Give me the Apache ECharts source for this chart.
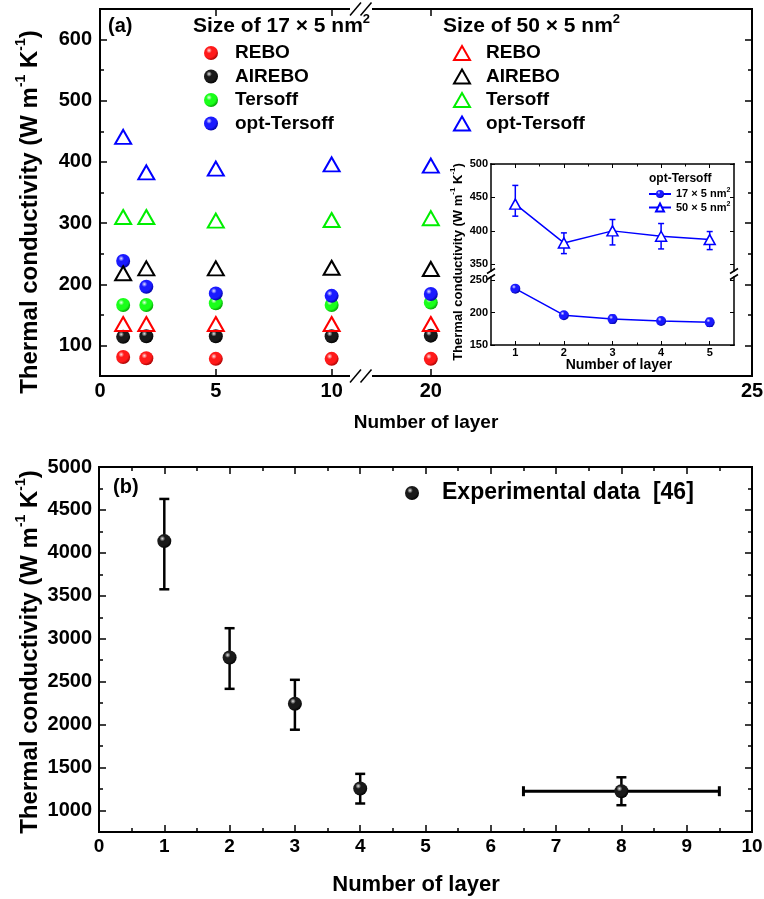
<!DOCTYPE html>
<html lang="en">
<head>
<meta charset="UTF-8">
<title>Thermal conductivity vs number of layers</title>
<script src="https://cdn.jsdelivr.net/npm/echarts@6.0.0/dist/echarts.min.js"></script>
<style>
  html, body { margin: 0; padding: 0; background: #fff; }
  #chart { width: 764px; height: 899px; }
</style>
</head>
<body>
<div id="chart"></div>
<script>
// ---------- data ----------
// (a) MD results, 17 x 5 nm2 (spheres) and 50 x 5 nm2 (triangles)
const layersA = [1, 2, 5, 10, 20]
const rebo17 = [81, 79, 78, 78, 78]
const airebo17 = [114, 115, 115, 115, 116]
const tersoff17 = [166, 166, 169, 166, 170]
const optTersoff17 = [238, 196, 185, 181, 184]
const rebo50 = [135, 135, 135, 135, 135]
const airebo50 = [218, 226, 226, 227, 225]
const tersoff50 = [310, 310, 304, 305, 308]
const optTersoff50 = [441, 383, 389, 396, 394]

// inset: opt-Tersoff with error bars
const insetLayers = [1, 2, 3, 4, 5]
const inset17 = [237, 196, 190, 187, 185]
const inset17Err = [3, 4, 6, 4, 6]
const inset50 = [440, 382, 400, 392, 387]
const inset50Low = [422, 366, 379, 373, 372]
const inset50High = [468, 397, 417, 411, 399]

// (b) experimental data [46]
const layersB = [1, 2, 3, 4, 8]
const kappaB = [4137, 2781, 2243, 1256, 1225]
const kappaBLow = [3576, 2417, 1941, 1082, 1062]
const kappaBHigh = [4628, 3123, 2522, 1427, 1387]
const layersBLow = [null, null, null, null, 6.5]
const layersBHigh = [null, null, null, null, 9.5]

// tick labels
const xTicksA1 = [0, 5, 10]
const xTicksA2 = [20, 25]
const yTicksA = [100, 200, 300, 400, 500, 600]
const yMinorA = [150, 250, 350, 450, 550]
const xTicksB = [0, 1, 2, 3, 4, 5, 6, 7, 8, 9, 10]
const yTicksB = [1000, 1500, 2000, 2500, 3000, 3500, 4000, 4500, 5000]
const yMinorB = [1250, 1750, 2250, 2750, 3250, 3750, 4250, 4750]
const xTicksInset = [1, 2, 3, 4, 5]
const xMinorInset = [1.5, 2.5, 3.5, 4.5]
const yTicksInsetUp = [350, 400, 450, 500]
const yTicksInsetLow = [150, 200, 250]

// ---------- styles ----------
const FONT = "'Liberation Sans', Arial, Helvetica, sans-serif"

function sphere(hi, mid, dark) {
  return new echarts.graphic.RadialGradient(0.36, 0.32, 0.72, [
    { offset: 0, color: hi },
    { offset: 0.28, color: mid },
    { offset: 0.7, color: mid },
    { offset: 1, color: dark }
  ])
}
const potentials = [
  { name: 'REBO', s17: rebo17, s50: rebo50, color: '#ff0000', ball: sphere('#ffe4e4', '#ff1a1a', '#a00000') },
  { name: 'AIREBO', s17: airebo17, s50: airebo50, color: '#000000', ball: sphere('#e6e6e6', '#1a1a1a', '#000000') },
  { name: 'Tersoff', s17: tersoff17, s50: tersoff50, color: '#00ee00', ball: sphere('#e6ffe6', '#1aff1a', '#009a00') },
  { name: 'opt-Tersoff', s17: optTersoff17, s50: optTersoff50, color: '#0000ff', ball: sphere('#e4e4ff', '#1a1aff', '#00009a') }
]
const blackBall = sphere('#e6e6e6', '#1a1a1a', '#000000')
const blueBall = sphere('#e4e4ff', '#1a1aff', '#00009a')

function axis(gridIndex, position, min, max, o = {}) {
  return {
    type: 'value', gridIndex, position, min, max,
    interval: o.interval,
    axisLine: { show: o.line !== false, onZero: false, lineStyle: { color: '#000', width: o.lw || 2, cap: 'square' } },
    axisTick: {
      show: !!(o.ticks || o.interval), inside: true, length: o.tickLen || 7,
      customValues: o.ticks, lineStyle: { color: '#000', width: o.tickW || 1.5 }
    },
    minorTick: { show: !!o.minor, splitNumber: 2, length: 4, lineStyle: { color: '#000', width: 1.5 } },
    axisLabel: o.labels
      ? { show: true, customValues: o.labels, formatter: v => String(v), margin: o.margin || 6, fontSize: o.fs || 20, fontWeight: 'bold', fontFamily: FONT, color: '#000' }
      : { show: false },
    splitLine: { show: false }
  }
}

function rich(size) {
  return {
    n: { fontSize: size, fontWeight: 'bold', fontFamily: FONT, fill: '#000', lineHeight: Math.round(size * 1.35) },
    s: { fontSize: Math.round(size * 0.6), fontWeight: 'bold', fontFamily: FONT, fill: '#000', lineHeight: Math.round(size * 0.6), verticalAlign: 'top' }
  }
}
function label(text, x, y, size, align, rotation) {
  return {
    type: 'text', x, y, rotation: rotation || 0, silent: true,
    style: { text, align: align || 'left', verticalAlign: 'middle', fontSize: size, fontWeight: 'bold', fontFamily: FONT, fill: '#000', rich: rich(size) }
  }
}
function slash(cx, cy, dx, dy) {
  return { type: 'line', silent: true, shape: { x1: cx - dx, y1: cy + dy, x2: cx + dx, y2: cy - dy }, style: { stroke: '#000', lineWidth: 1.5 } }
}
const yTitle = '{n|Thermal conductivity (W m}{s|-1}{n| K}{s|-1}{n|)}'

function errorBars(rows, xi, yi, color, lw, cap) {
  return {
    type: 'custom', xAxisIndex: xi, yAxisIndex: yi, z: 2, silent: true, data: rows,
    renderItem(params, api) {
      const x = api.value(0), y = api.value(1)
      const lo = api.coord([x, api.value(2)]), hi = api.coord([x, api.value(3)])
      const st = { stroke: color, lineWidth: lw }
      const kids = [
        { type: 'line', shape: { x1: lo[0], y1: lo[1], x2: hi[0], y2: hi[1] }, style: st },
        { type: 'line', shape: { x1: lo[0] - cap, y1: lo[1], x2: lo[0] + cap, y2: lo[1] }, style: st },
        { type: 'line', shape: { x1: hi[0] - cap, y1: hi[1], x2: hi[0] + cap, y2: hi[1] }, style: st }
      ]
      const xl = api.value(4), xh = api.value(5)
      if (xl != null && !isNaN(xl)) {
        const l = api.coord([xl, y]), r = api.coord([xh, y])
        const hs = { stroke: color, lineWidth: lw + 0.5 }
        kids.push(
          { type: 'line', shape: { x1: l[0], y1: l[1], x2: r[0], y2: r[1] }, style: hs },
          { type: 'line', shape: { x1: l[0], y1: l[1] - cap, x2: l[0], y2: l[1] + cap }, style: hs },
          { type: 'line', shape: { x1: r[0], y1: r[1] - cap, x2: r[0], y2: r[1] + cap }, style: hs }
        )
      }
      return { type: 'group', children: kids }
    }
  }
}

// ---------- series ----------
const series = []
potentials.forEach(p => {
  ;[false, true].forEach(right => {
    const ax = right ? 2 : 0
    const pts = vals => layersA.map((l, i) => [l, vals[i]]).filter(d => right ? d[0] > 11 : d[0] <= 11)
    series.push({
      type: 'scatter', name: p.name + '|17', xAxisIndex: ax, yAxisIndex: ax, silent: true, z: 3,
      symbol: 'circle', symbolSize: 14, itemStyle: { color: p.ball, opacity: 1 }, data: pts(p.s17)
    })
    series.push({
      type: 'scatter', name: p.name + '|50', xAxisIndex: ax, yAxisIndex: ax, silent: true, z: 4,
      symbol: 'triangle', symbolSize: [16, 14],
      itemStyle: { color: 'rgba(255,255,255,0)', borderColor: p.color, borderWidth: 2, opacity: 1 }, data: pts(p.s50)
    })
  })
})

// inset
series.push(errorBars(insetLayers.map((l, i) => [l, inset17[i], inset17[i] - inset17Err[i], inset17[i] + inset17Err[i]]), 8, 10, '#0000ff', 1.5, 3))
series.push(errorBars(insetLayers.map((l, i) => [l, inset50[i], inset50Low[i], inset50High[i]]), 6, 8, '#0000ff', 1.5, 3))
series.push({
  type: 'line', name: 'in17', xAxisIndex: 8, yAxisIndex: 10, silent: true, z: 3,
  symbol: 'circle', symbolSize: 10, showSymbol: true,
  itemStyle: { color: blueBall }, lineStyle: { color: '#0000ff', width: 1.5 },
  data: insetLayers.map((l, i) => [l, inset17[i]])
})
series.push({
  type: 'line', name: 'in50', xAxisIndex: 6, yAxisIndex: 8, silent: true, z: 3,
  symbol: 'triangle', symbolSize: [11, 10], showSymbol: true,
  itemStyle: { color: '#fff', borderColor: '#0000ff', borderWidth: 1.5 }, lineStyle: { color: '#0000ff', width: 1.5 },
  data: insetLayers.map((l, i) => [l, inset50[i]])
})

// (b)
series.push(errorBars(layersB.map((l, i) => [l, kappaB[i], kappaBLow[i], kappaBHigh[i], layersBLow[i], layersBHigh[i]]), 4, 4, '#000', 2.5, 5))
series.push({
  type: 'scatter', name: 'Experimental data  [46]', xAxisIndex: 4, yAxisIndex: 4, silent: true, z: 3,
  symbol: 'circle', symbolSize: 14, itemStyle: { color: blackBall, opacity: 1 },
  data: layersB.map((l, i) => [l, kappaB[i]])
})

const legendText = (size, pad) => ({ fontSize: size, fontWeight: 'bold', fontFamily: FONT, color: '#000', lineHeight: size + 1, padding: [0, 0, 0, pad] })
const insetNames = { in17: '{t|17 × 5 nm}{s|2}', in50: '{t|50 × 5 nm}{s|2}' }

const option = {
  animation: false,
  backgroundColor: '#fff',
  grid: [
    { left: 100, top: 9, width: 249, height: 367, outerBoundsMode: 'none' },
    { left: 373, top: 9, width: 379, height: 367, outerBoundsMode: 'none' },
    { left: 99, top: 467, width: 653, height: 365, outerBoundsMode: 'none' },
    { left: 491, top: 164, width: 243, height: 107, outerBoundsMode: 'none' },
    { left: 491, top: 277, width: 243, height: 68, outerBoundsMode: 'none' }
  ],
  xAxis: [
    axis(0, 'bottom', 0, 10.75, { ticks: xTicksA1, labels: xTicksA1, margin: 5 }),
    axis(0, 'top', 0, 10.75, { ticks: [5, 10] }),
    axis(1, 'bottom', 19.1, 25, { ticks: [20], labels: xTicksA2, margin: 5 }),
    axis(1, 'top', 19.1, 25, { ticks: [20] }),
    axis(2, 'bottom', 0, 10, { interval: 1, minor: true, labels: xTicksB, fs: 19, margin: 5 }),
    axis(2, 'top', 0, 10, { interval: 1, minor: true }),
    axis(3, 'top', 0.5, 5.5, { ticks: xTicksInset, lw: 1.5, tickLen: 4, tickW: 1 }),
    axis(3, 'top', 0.5, 5.5, { line: false, ticks: xMinorInset, tickLen: 2.5, tickW: 1 }),
    axis(4, 'bottom', 0.5, 5.5, { ticks: xTicksInset, labels: xTicksInset, fs: 11, margin: 2, lw: 1.5, tickLen: 4, tickW: 1 }),
    axis(4, 'bottom', 0.5, 5.5, { line: false, ticks: xMinorInset, tickLen: 2.5, tickW: 1 })
  ],
  yAxis: [
    axis(0, 'left', 50, 650, { ticks: yTicksA, labels: yTicksA, margin: 8 }),
    axis(0, 'left', 50, 650, { line: false, ticks: yMinorA, tickLen: 4 }),
    axis(1, 'right', 50, 650, { ticks: yTicksA }),
    axis(1, 'right', 50, 650, { line: false, ticks: yMinorA, tickLen: 4 }),
    axis(2, 'left', 750, 5000, { ticks: yTicksB, labels: yTicksB, margin: 7 }),
    axis(2, 'left', 750, 5000, { line: false, ticks: yMinorB, tickLen: 4 }),
    axis(2, 'right', 750, 5000, { ticks: yTicksB }),
    axis(2, 'right', 750, 5000, { line: false, ticks: yMinorB, tickLen: 4 }),
    axis(3, 'left', 340, 500, { ticks: yTicksInsetUp, labels: yTicksInsetUp, fs: 11, margin: 3, lw: 1.5, tickLen: 4, tickW: 1 }),
    axis(3, 'right', 340, 500, { ticks: yTicksInsetUp, lw: 1.5, tickLen: 4, tickW: 1 }),
    axis(4, 'left', 150, 255, { ticks: yTicksInsetLow, labels: yTicksInsetLow, fs: 11, margin: 3, lw: 1.5, tickLen: 4, tickW: 1 }),
    axis(4, 'right', 150, 255, { ticks: yTicksInsetLow, lw: 1.5, tickLen: 4, tickW: 1 })
  ],
  legend: [
    {
      data: potentials.map(p => p.name + '|17'), orient: 'vertical', left: 204, top: 43, padding: 0,
      itemWidth: 16, itemHeight: 14, itemGap: 3.5, selectedMode: false,
      formatter: n => n.split('|')[0], textStyle: legendText(19, 11)
    },
    {
      data: potentials.map(p => p.name + '|50'), orient: 'vertical', left: 453, top: 43, padding: 0,
      itemWidth: 16, itemHeight: 14, itemGap: 3.5, selectedMode: false,
      formatter: n => n.split('|')[0], textStyle: legendText(19, 11)
    },
    {
      data: ['in17', 'in50'], orient: 'vertical', left: 648, top: 187, padding: 0,
      itemWidth: 22, itemHeight: 10, itemGap: 1, selectedMode: false,
      formatter: n => insetNames[n],
      textStyle: {
        rich: {
          t: { fontSize: 11, fontWeight: 'bold', fontFamily: FONT, color: '#000', lineHeight: 14 },
          s: { fontSize: 7, fontWeight: 'bold', fontFamily: FONT, color: '#000', lineHeight: 7, verticalAlign: 'top' }
        }
      }
    },
    {
      data: ['Experimental data  [46]'], left: 405, top: 481, padding: 0,
      itemWidth: 14, itemHeight: 14, selectedMode: false,
      textStyle: legendText(23, 18)
    }
  ],
  graphic: [
    label('(a)', 108, 26, 20),
    label('(b)', 113, 487, 20),
    label('{n|Size of 17 × 5 nm}{s|2}', 193, 26.5, 21),
    label('{n|Size of 50 × 5 nm}{s|2}', 443, 26.5, 21),
    label(yTitle, 30.5, 212, 24, 'center', Math.PI / 2),
    label(yTitle, 30.5, 652, 24, 'center', Math.PI / 2),
    label('Number of layer', 426, 423, 19, 'center'),
    label('Number of layer', 416, 885, 22, 'center'),
    label('opt-Tersoff', 649, 179, 12),
    label(yTitle, 458, 262, 13, 'center', Math.PI / 2),
    label('Number of layer', 619, 365, 14, 'center'),
    // axis breaks
    slash(355.5, 376, 5.5, 6.5), slash(366, 376, 5.5, 6.5),
    slash(355.5, 9, 5.5, 6.5), slash(366, 9, 5.5, 6.5),
    slash(491, 271, 4, 2.5), slash(491, 277, 4, 2.5),
    slash(734, 271, 4, 2.5), slash(734, 277, 4, 2.5)
  ],
  series
}

const chart = echarts.init(document.getElementById('chart'))
chart.setOption(option)
</script>
</body>
</html>
